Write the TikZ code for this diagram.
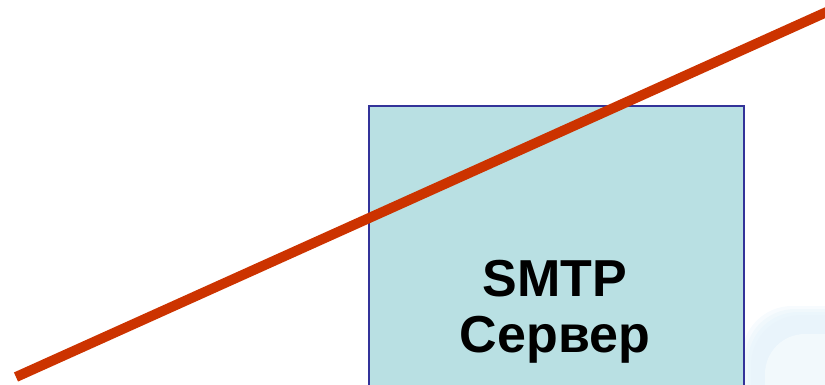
\documentclass[tikz,border=0pt]{standalone}
\usepackage{fontspec}
\setmainfont{Liberation Sans}
\usetikzlibrary{positioning}
\definecolor{srvfill}{RGB}{185,224,227}
\definecolor{srvline}{RGB}{51,51,153}
\definecolor{strike}{RGB}{204,51,0}
\definecolor{glow}{RGB}{232,244,251}

\begin{document}
\begin{tikzpicture}[
    x=1pt, y=-1pt,
    srv_box/.style={draw=srvline, line width=2pt, fill=srvfill, minimum width=375pt, minimum height=320pt, inner sep=0pt},
    srv_text/.style={font=\fontsize{52}{60}\selectfont\bfseries, anchor=base, inner sep=0pt},
    cross_line/.style={strike, line width=10pt},
]
\useasboundingbox (0,0) rectangle (825,385);
\clip (0,0) rectangle (825,385);

% Background glow
\foreach \d/\op in {0/0.35, 3/0.45, 6/0.6, 9/0.8} {
    \fill[glow, opacity=\op, rounded corners=50pt] (742+\d,306+\d) rectangle (900,460);
}
\fill[white, opacity=0.45, rounded corners=40pt] (765,334) rectangle (900,460);

% Server box
\node[srv_box, anchor=north west] (srv) at (368,105) {};
\node[srv_text] (smtp) at (555,296) {SMTP};
\node[srv_text] (serv) at (555,352) {Сервер};

% Crossing-out line
\coordinate (cs) at (16,377);
\coordinate (ce) at (840,6);
\draw[cross_line] (cs) -- (ce);

\end{tikzpicture}
\end{document}
